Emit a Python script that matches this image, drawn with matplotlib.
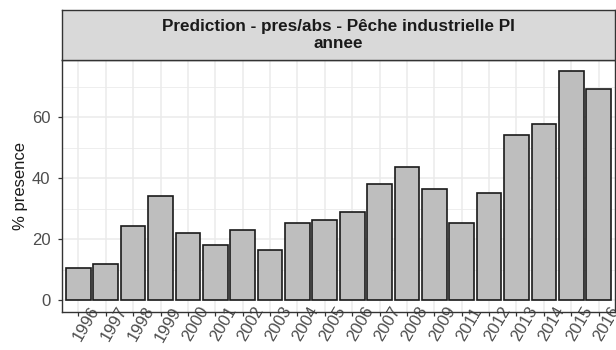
import numpy as np
import matplotlib.pyplot as plt
from matplotlib.transforms import ScaledTranslation
from matplotlib.ticker import MultipleLocator

annees = ['1996', '1997', '1998', '1999', '2000', '2001', '2002', '2003', '2004', '2005',
          '2006', '2007', '2008', '2009', '2011', '2012', '2013', '2014', '2015', '2016']
presence = [10.6, 12.0, 24.3, 34.3, 22.0, 18.1, 22.9, 16.4, 25.3, 26.3,
            29.1, 38.1, 43.6, 36.6, 25.2, 35.3, 54.1, 57.9, 75.1, 69.3]
titre = 'Prediction - pres/abs - Pêche industrielle PI\nannee'

plt.rcParams['font.family'] = ['Liberation Sans', 'DejaVu Sans']

fig = plt.figure(figsize=(6.16, 3.5), dpi=100)
ax = fig.add_axes([0.1006, 0.1094, 0.8978, 0.7192])

x = np.arange(len(annees))
ax.bar(x, presence, width=0.9, color='#BEBEBE', edgecolor='#1A1A1A', linewidth=1.2, zorder=3)

# axes limites facon ggplot (expansion)
ymax = max(presence)
ax.set_ylim(-0.05 * ymax, ymax * 1.05)
ax.set_xlim(-0.6, len(annees) - 1 + 0.6)

ax.set_yticks([0, 20, 40, 60])
ax.yaxis.set_minor_locator(MultipleLocator(10))
ax.set_xticks(x)
ax.set_xticklabels(annees, rotation=60, ha='center', va='center', rotation_mode='anchor')

ax.grid(which='major', color='#EBEBEB', linewidth=1.1, zorder=0)
ax.grid(which='minor', axis='y', color='#EBEBEB', linewidth=0.6, zorder=0)
ax.set_axisbelow(True)

ax.tick_params(axis='both', which='major', length=2.9, width=0.9, color='#333333',
               labelsize=12, labelcolor='#4D4D4D')
ax.tick_params(axis='x', pad=6)
ax.tick_params(axis='y', pad=5.5)
ax.tick_params(which='minor', length=0)

for lab in ax.get_xticklabels():
    lab.set_transform(lab.get_transform() + ScaledTranslation(0.08, 0, fig.dpi_scale_trans))

for sp in ax.spines.values():
    sp.set_color('#333333')
    sp.set_linewidth(1.0)

ax.set_ylabel('% presence', fontsize=12, color='#1A1A1A', labelpad=3)

# bandeau du titre (strip)
strip = fig.add_axes([0.1006, 0.8286, 0.8978, 0.1428])
strip.set_facecolor('#D9D9D9')
strip.set_xticks([])
strip.set_yticks([])
for sp in strip.spines.values():
    sp.set_color('#333333')
    sp.set_linewidth(1.0)
strip.text(0.5, 0.5, titre, ha='center', va='center', fontsize=12.3, fontweight='bold',
           color='#1A1A1A', linespacing=1.25, transform=strip.transAxes)

plt.savefig('out.png', dpi=100)
